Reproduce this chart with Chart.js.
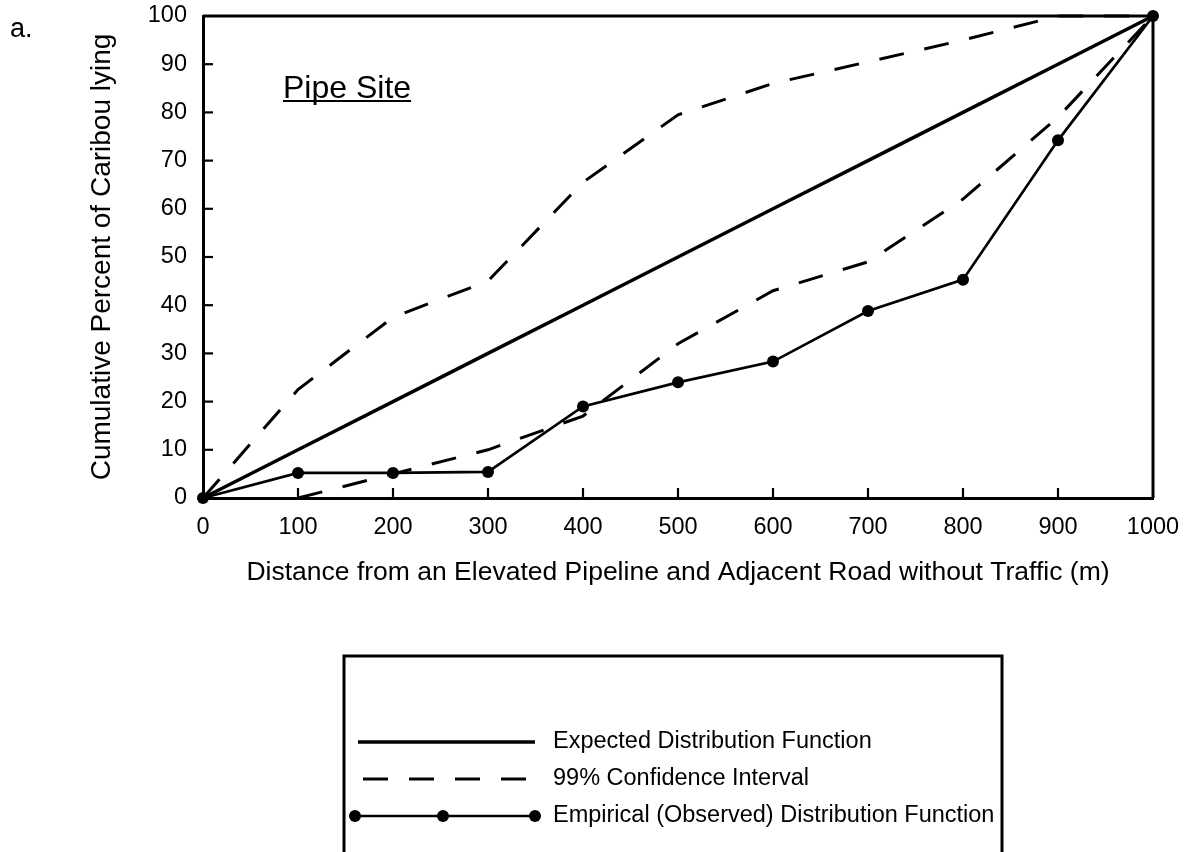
<!DOCTYPE html>
<html>
<head>
<meta charset="utf-8">
<title>Pipe Site - cumulative distribution</title>
<script src="https://cdn.jsdelivr.net/npm/chart.js@4.4.1/dist/chart.umd.min.js"></script>
<style>
    html, body { margin: 0; padding: 0; background: #fff; }
    #wrap { width: 1188px; height: 852px; }
</style>
</head>
<body>
<div id="wrap"><canvas id="cdfChart" width="1188" height="852"></canvas></div>
<script>
// distance from the pipeline (m)
const distances = [0, 100, 200, 300, 400, 500, 600, 700, 800, 900, 1000];
// cumulative percent of caribou lying
const expectedPct = [0, 10, 20, 30, 40, 50, 60, 70, 80, 90, 100];
const upperCI = [0, 22.5, 37.5, 45, 65.5, 79.5, 86, 90.5, 95, 100, 100];
const lowerCI = [null, 0, 5, 10, 17, 32, 43, 49, 62, 79, 100];
const observedPct = [0, 5.2, 5.2, 5.4, 19, 24, 28.3, 38.8, 45.3, 74.2, 100];

const legendRows = [
    { label: 'Expected Distribution Function', dataset: 0 },
    { label: '99% Confidence Interval', dataset: 1 },
    { label: 'Empirical (Observed) Distribution Function', dataset: 3 }
];

const FONT = "'Liberation Sans', Arial, Helvetica, sans-serif";
Chart.defaults.font.family = FONT;
Chart.defaults.color = '#000';

function toPoints(values) {
    return distances.map((d, i) => ({ x: d, y: values[i] }));
}

// frame, inward tick marks, panel letter, site label and the boxed legend
const decorations = {
    id: 'decorations',
    afterDraw(chart) {
        const { ctx, chartArea: area, scales } = chart;
        ctx.save();
        ctx.strokeStyle = '#000';
        ctx.fillStyle = '#000';

        // top and right edges of the frame
        ctx.lineWidth = 3;
        ctx.beginPath();
        ctx.moveTo(area.left, area.top);
        ctx.lineTo(area.right, area.top);
        ctx.lineTo(area.right, area.bottom);
        ctx.stroke();

        // ticks pointing into the plot
        ctx.lineWidth = 2.2;
        scales.x.ticks.forEach(t => {
            if (t.value <= 0 || t.value >= 1000) return;
            const px = scales.x.getPixelForValue(t.value);
            ctx.beginPath();
            ctx.moveTo(px, area.bottom);
            ctx.lineTo(px, area.bottom - 10);
            ctx.stroke();
        });
        scales.y.ticks.forEach(t => {
            if (t.value <= 0 || t.value >= 100) return;
            const py = scales.y.getPixelForValue(t.value);
            ctx.beginPath();
            ctx.moveTo(area.left, py);
            ctx.lineTo(area.left + 10, py);
            ctx.stroke();
        });

        // panel letter
        ctx.font = '27px ' + FONT;
        ctx.textAlign = 'left';
        ctx.textBaseline = 'alphabetic';
        ctx.fillText('a.', 10, 37);

        // site name, underlined
        ctx.font = '32px ' + FONT;
        ctx.fillText('Pipe Site', 283, 98);
        const w = ctx.measureText('Pipe Site').width;
        ctx.lineWidth = 1.8;
        ctx.beginPath();
        ctx.moveTo(283, 101);
        ctx.lineTo(283 + w, 101);
        ctx.stroke();

        // legend box (runs off the bottom of the page)
        ctx.lineWidth = 3;
        ctx.strokeRect(344, 656, 658, 240);

        ctx.font = '23.5px ' + FONT;
        ctx.textBaseline = 'middle';
        legendRows.forEach((row, i) => {
            const ds = chart.data.datasets[row.dataset];
            const y = 742 + i * 37;
            const x0 = row.dataset === 1 ? 363 : (row.dataset === 3 ? 355 : 358);
            const x1 = 535;
            ctx.lineWidth = ds.borderWidth;
            ctx.setLineDash(ds.borderDash || []);
            ctx.beginPath();
            ctx.moveTo(x0, y);
            ctx.lineTo(x1, y);
            ctx.stroke();
            ctx.setLineDash([]);
            if (ds.pointRadius > 0) {
                [x0, (x0 + x1) / 2 - 2, x1].forEach(px => {
                    ctx.beginPath();
                    ctx.arc(px, y, ds.pointRadius, 0, Math.PI * 2);
                    ctx.fill();
                });
            }
            ctx.fillText(row.label, 553, y);
        });
        ctx.restore();
    }
};

const ctx = document.getElementById('cdfChart').getContext('2d');
const chart = new Chart(ctx, {
    type: 'line',
    data: {
        datasets: [{
            label: 'Expected Distribution Function',
            data: toPoints(expectedPct),
            borderColor: '#000',
            borderWidth: 3.5,
            pointRadius: 0,
            tension: 0,
            clip: false
        }, {
            label: '99% Confidence Interval (upper)',
            data: toPoints(upperCI),
            borderColor: '#000',
            borderWidth: 3,
            borderDash: [25, 21],
            pointRadius: 0,
            tension: 0,
            clip: false
        }, {
            label: '99% Confidence Interval (lower)',
            data: toPoints(lowerCI),
            borderColor: '#000',
            borderWidth: 3,
            borderDash: [25, 21],
            pointRadius: 0,
            tension: 0,
            clip: false
        }, {
            label: 'Empirical (Observed) Distribution Function',
            data: toPoints(observedPct),
            borderColor: '#000',
            backgroundColor: '#000',
            borderWidth: 2.7,
            pointRadius: 6,
            pointBackgroundColor: '#000',
            pointBorderWidth: 0,
            tension: 0,
            clip: false
        }]
    },
    options: {
        responsive: false,
        animation: false,
        layout: {
            padding: { left: 0, right: 35, top: 16, bottom: 254 }
        },
        plugins: {
            legend: { display: false },
            tooltip: { enabled: false }
        },
        scales: {
            x: {
                type: 'linear',
                min: 0,
                max: 1000,
                ticks: {
                    stepSize: 100,
                    padding: 15,
                    maxRotation: 0,
                    color: '#000',
                    font: { size: 23.5 },
                    callback: v => String(v)
                },
                grid: { display: false, drawTicks: false },
                border: { display: true, color: '#000', width: 3 },
                title: {
                    display: true,
                    text: 'Distance from an Elevated Pipeline and Adjacent Road without Traffic (m)',
                    color: '#000',
                    font: { size: 26.5 },
                    padding: { top: 0, bottom: 9 }
                },
                afterFit: scale => {
                    scale.height = 100;
                    scale.paddingLeft = 0;
                    scale.paddingRight = 0;
                }
            },
            y: {
                min: 0,
                max: 100,
                ticks: {
                    stepSize: 10,
                    padding: 16,
                    color: '#000',
                    font: { size: 23.5 }
                },
                grid: { display: false, drawTicks: false },
                border: { display: true, color: '#000', width: 3 },
                title: {
                    display: true,
                    text: 'Cumulative Percent of Caribou lying',
                    color: '#000',
                    font: { size: 28 },
                    padding: { top: 85, bottom: 0 }
                },
                afterFit: scale => {
                    scale.width = 203;
                    scale.paddingTop = 0;
                    scale.paddingBottom = 0;
                }
            }
        }
    },
    plugins: [decorations]
});
</script>
</body>
</html>
